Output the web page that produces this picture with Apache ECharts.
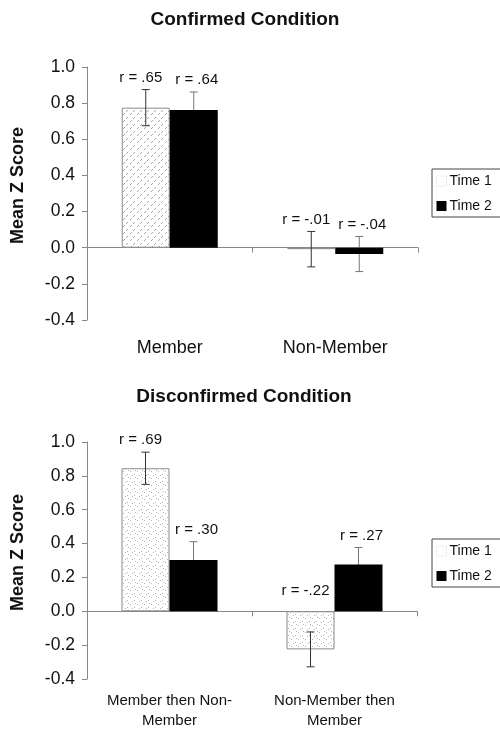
<!DOCTYPE html>
<html>
<head>
<meta charset="utf-8">
<script src="https://cdn.jsdelivr.net/npm/echarts@6/dist/echarts.min.js"></script>
<style>
html,body{margin:0;padding:0;background:#fff;}
#c{width:500px;height:731px;}
</style>
</head>
<body>
<div id="c"></div>
<script>
// ---- data ----
const titles = ['Confirmed Condition', 'Disconfirmed Condition'];
const seriesNames = ['Time 1', 'Time 2'];
const yTicks = [-0.4, -0.2, 0.0, 0.2, 0.4, 0.6, 0.8, 1.0];
const catsConfirmed = ['Member', 'Non-Member'];
const catsDisconfirmed = ['Member then Non-\nMember', 'Non-Member then\nMember'];
const confT1 = [0.775, -0.008];
const confT2 = [0.762, -0.035];
const confT1Err = [0.10, 0.098];
const confT2Err = [0.10, 0.097];
const confT1R = ['r = .65', 'r = -.01'];
const confT2R = ['r = .64', 'r = -.04'];
const discT1 = [0.845, -0.225];
const discT2 = [0.303, 0.277];
const discT1Err = [0.095, 0.103];
const discT2Err = [0.108, 0.10];
const discT1R = ['r = .69', 'r = -.22'];
const discT2R = ['r = .30', 'r = .27'];

// ---- patterns ----
function hatchPattern(dotted) {
  const s = 7;
  const c = document.createElement('canvas');
  c.width = s; c.height = s;
  const g = c.getContext('2d');
  g.fillStyle = '#ffffff';
  g.fillRect(0, 0, s, s);
  g.fillStyle = dotted ? '#b4b4b4' : '#a8a8a8';
  const pts = dotted ? [[1,5],[4,2],[6,6],[2,1]] : [[0,6],[1,5],[4,2],[5,1]];
  pts.forEach(p => g.fillRect(p[0], p[1], 1, 1));
  return c;
}
const pat1 = hatchPattern(false);
const pat2 = hatchPattern(true);

const FONT = 'Liberation Sans, Arial, Helvetica, sans-serif';
const BARW = 48;

function errSeries(gridIdx, name, vals, errs, rLabels, side, z, errColor) {
  return {
    type: 'custom',
    name: name,
    xAxisIndex: gridIdx * 2,
    yAxisIndex: gridIdx,
    z: z,
    silent: true,
    data: vals.map((v, i) => [i, v, errs[i], i]),
    renderItem: function (params, api) {
      const i = api.value(0), v = api.value(1), e = api.value(2);
      const idx = api.value(3);
      const base = api.coord([i, v]);
      const x = base[0] + side * BARW / 2;
      const top = api.coord([i, v + e])[1];
      const bot = api.coord([i, v - e])[1];
      const lineStyle = { stroke: errColor, lineWidth: 1 };
      let anchorY, off;
      if (v + e >= 0) { anchorY = top; off = 12; }
      else { anchorY = api.coord([i, 0])[1]; off = 20; }
      return {
        type: 'group',
        children: [
          { type: 'line', shape: { x1: x, y1: top, x2: x, y2: bot }, style: lineStyle },
          { type: 'line', shape: { x1: x - 4, y1: top, x2: x + 4, y2: top }, style: lineStyle },
          { type: 'line', shape: { x1: x - 4, y1: bot, x2: x + 4, y2: bot }, style: lineStyle },
          { type: 'text', z2: 100, style: { text: rLabels[idx], x: x + (side < 0 ? -5 : 3), y: anchorY - off,
              textAlign: 'center', textVerticalAlign: 'middle',
              font: '15px ' + FONT, fill: '#111' } }
        ]
      };
    }
  };
}

const grids = [
  { left: 87, width: 331, top: 67, height: 253 },
  { left: 87, width: 330, top: 442, height: 241 }
];

function xAxes(gridIdx, cats, labelSize, margin, lineHeight) {
  return [
    {
      type: 'category', gridIndex: gridIdx, data: cats,
      axisLine: { onZero: true, lineStyle: { color: '#888', width: 1 } },
      axisTick: { show: true, length: 5, lineStyle: { color: '#888' } },
      axisLabel: { show: false }
    },
    {
      type: 'category', gridIndex: gridIdx, data: cats, position: 'bottom',
      axisLine: { show: false, onZero: false },
      axisTick: { show: false },
      axisLabel: { show: true, margin: margin, fontSize: labelSize, lineHeight: lineHeight,
        color: '#111', fontFamily: FONT, interval: 0 }
    }
  ];
}

function yAxis(gridIdx) {
  return {
    type: 'value', gridIndex: gridIdx, min: yTicks[0], max: yTicks[yTicks.length - 1], interval: 0.2,
    name: 'Mean Z Score', nameLocation: 'middle', nameRotate: 90, nameGap: 60,
    nameTextStyle: { fontSize: 18, fontWeight: 'bold', color: '#111', fontFamily: FONT, padding: [0, 0, 0, 16] },
    axisLine: { show: true, lineStyle: { color: '#888' } },
    axisTick: { show: true, length: 5, lineStyle: { color: '#888' } },
    splitLine: { show: false },
    axisLabel: { fontSize: 17.5, color: '#111', fontFamily: FONT, margin: 12,
      formatter: v => v.toFixed(1) }
  };
}

function barSeries(gridIdx, name, vals, color) {
  return {
    type: 'bar', name: name, xAxisIndex: gridIdx * 2, yAxisIndex: gridIdx,
    data: vals, barWidth: BARW, barGap: '0%', z: 2,
    itemStyle: color
  };
}

const t1Style1 = { color: { image: pat1, repeat: 'repeat' }, borderColor: '#8a8a8a', borderWidth: 1 };
const t1Style2 = { color: { image: pat2, repeat: 'repeat' }, borderColor: '#8a8a8a', borderWidth: 1 };
const t2Style = { color: '#000', borderColor: '#000', borderWidth: 0 };

function legend(top) {
  return {
    orient: 'vertical', left: 432, top: top,
    data: [
      { name: 'Time 1', itemStyle: { color: '#fff', borderColor: '#ddd', borderWidth: 1, borderType: 'dotted' } },
      { name: 'Time 2', itemStyle: { color: '#000', borderWidth: 0 } }
    ],
    icon: 'rect', itemWidth: 10, itemHeight: 10, itemGap: 11,
    padding: [5, 30, 4, 4],
    borderColor: '#444', borderWidth: 1,
    textStyle: { fontSize: 14, color: '#111', fontFamily: FONT, padding: [0, 0, 0, -2] },
    selectedMode: false
  };
}

const option = {
  animation: false,
  backgroundColor: '#fff',
  title: [
    { text: titles[0], left: 240, top: 5, textAlign: 'center',
      textStyle: { fontSize: 19, fontWeight: 'bold', color: '#111', fontFamily: FONT } },
    { text: titles[1], left: 239, top: 382, textAlign: 'center',
      textStyle: { fontSize: 19, fontWeight: 'bold', color: '#111', fontFamily: FONT } }
  ],
  legend: [legend(169), legend(539)],
  grid: grids,
  xAxis: [].concat(xAxes(0, catsConfirmed, 18, 18, 20), xAxes(1, catsDisconfirmed, 15, 12, 20)),
  yAxis: [yAxis(0), yAxis(1)],
  series: [
    barSeries(0, seriesNames[0], confT1, t1Style1),
    barSeries(0, seriesNames[1], confT2, t2Style),
    errSeries(0, seriesNames[0], confT1, confT1Err, confT1R, -1, 5, '#333'),
    errSeries(0, seriesNames[1], confT2, confT2Err, confT2R, 1, 1, '#777'),
    barSeries(1, seriesNames[0], discT1, t1Style2),
    barSeries(1, seriesNames[1], discT2, t2Style),
    errSeries(1, seriesNames[0], discT1, discT1Err, discT1R, -1, 5, '#333'),
    errSeries(1, seriesNames[1], discT2, discT2Err, discT2R, 1, 1, '#777')
  ]
};

const chart = echarts.init(document.getElementById('c'), null, { renderer: 'canvas' });
chart.setOption(option);
</script>
</body>
</html>
